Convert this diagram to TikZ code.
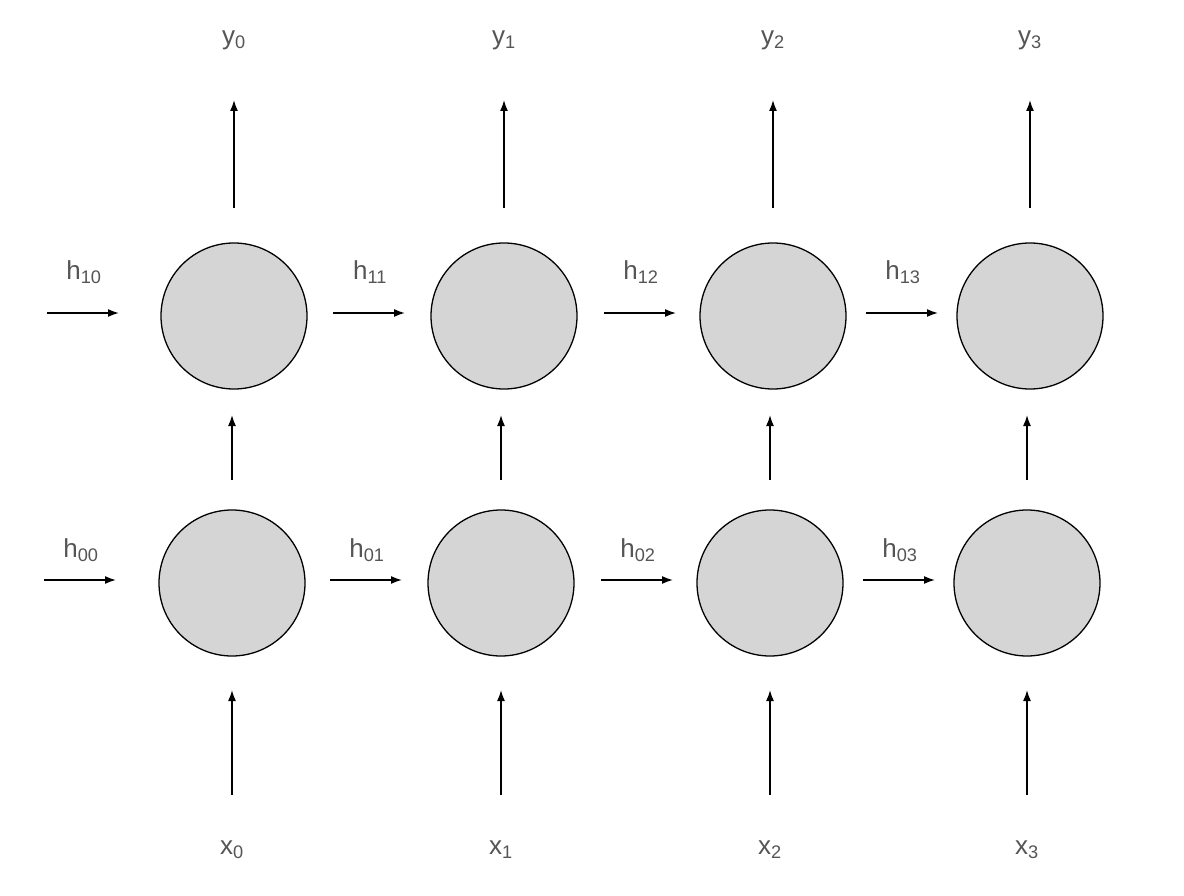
\documentclass[tikz,border=0pt]{standalone}
\usepackage{fontspec}
\setmainfont{Liberation Sans}
\usetikzlibrary{arrows.meta}
\definecolor{cellfill}{HTML}{D5D5D5}
\definecolor{txt}{HTML}{555555}
\begin{document}
\begin{tikzpicture}[x=1pt,y=-1pt,
  cell/.style={circle,draw=black,line width=1.3pt,fill=cellfill,minimum size=146pt,inner sep=0pt},
  arr/.style={-{Latex[length=11pt,width=8pt]},line width=1.6pt},
  lab/.style={text=txt,font=\fontsize{26}{30}\selectfont,inner sep=0pt}]
\useasboundingbox (0,0) rectangle (1184,896);
% cells
\foreach \i/\xb/\xt in {0/232/234,1/501/504,2/770/773,3/1027/1030}{
  \node[cell] (b\i) at (\xb,583) {};
  \node[cell] (t\i) at (\xt,316) {};
  \coordinate (xs\i) at (\xb,795); \coordinate (xe\i) at (\xb,690);
  \coordinate (ms\i) at (\xb,480); \coordinate (me\i) at (\xb,415);
  \coordinate (os\i) at (\xt,208); \coordinate (oe\i) at (\xt,100);
  \draw[arr] (xs\i) -- (xe\i);
  \draw[arr] (ms\i) -- (me\i);
  \draw[arr] (os\i) -- (oe\i);
  \node[lab] (x\i) at (\xb,850) {x\textsubscript{\i}};
  \node[lab] (y\i) at (\xt,40) {y\textsubscript{\i}};
}
% horizontal arrows
\foreach \i/\sb/\st in {0/44/47,1/330/333,2/601/604,3/863/866}{
  \pgfmathsetmacro{\eb}{\sb+72}\pgfmathsetmacro{\et}{\st+72}
  \pgfmathsetmacro{\cb}{\sb+37}\pgfmathsetmacro{\ct}{\st+37}
  \coordinate (hb\i) at (\sb,580); \coordinate (hbe\i) at (\eb,580);
  \coordinate (ht\i) at (\st,313); \coordinate (hte\i) at (\et,313);
  \draw[arr] (hb\i) -- (hbe\i);
  \draw[arr] (ht\i) -- (hte\i);
  \node[lab] (lb\i) at (\cb,550) {h\textsubscript{0\i}};
  \node[lab] (lt\i) at (\ct,272) {h\textsubscript{1\i}};
}
\end{tikzpicture}
\end{document}
